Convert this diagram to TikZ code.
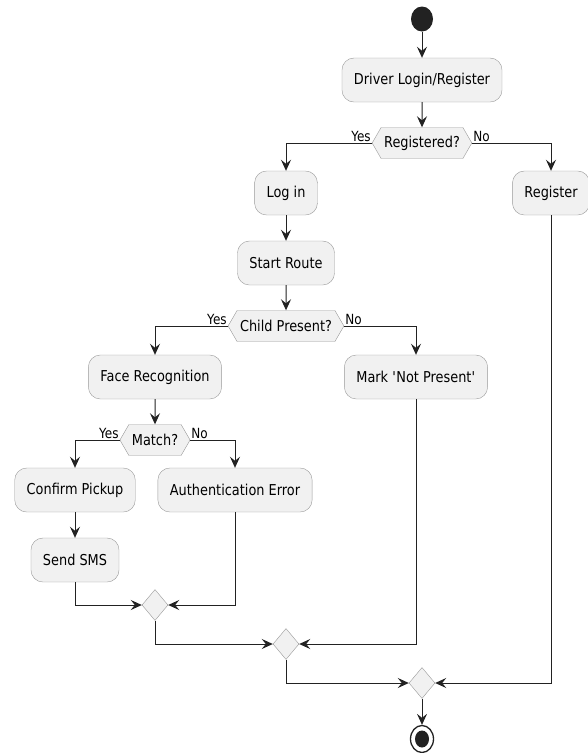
\documentclass[tikz,border=0pt]{standalone}
\usepackage{fontspec}
\setmainfont[FakeStretch=0.86]{DejaVu Sans}
\usetikzlibrary{shapes.geometric, shapes.symbols, arrows.meta}
\definecolor{boxfill}{HTML}{F1F1F1}
\definecolor{boxline}{HTML}{999999}
\definecolor{flowline}{HTML}{222222}
\begin{document}
\begin{tikzpicture}[x=1pt, y=-1pt,
  act/.style={draw=boxline, fill=boxfill, rounded corners=12pt, minimum height=44pt, inner xsep=12pt, font=\fontsize{15}{18}\selectfont},
  ask/.style={draw=boxline, fill=boxfill, signal, signal to=west and east, signal pointer angle=120, minimum height=31pt, inner xsep=3pt, inner ysep=2pt, font=\fontsize{15}{18}\selectfont},
  mergept/.style={draw=boxline, fill=boxfill, diamond, minimum width=26pt, minimum height=31pt, inner sep=0pt},
  ans/.style={inner sep=1pt, font=\fontsize{14}{16}\selectfont},
  flow/.style={draw=flowline, line width=1pt, -{Stealth[length=11pt, width=10pt, inset=4pt]}}]
\useasboundingbox (0,0) rectangle (587,753);
\node[ellipse, fill=flowline, minimum width=22pt, minimum height=25pt, inner sep=0pt] (start) at (422,19) {};
\node[act] (driver) at (422,80) {Driver Login/Register};
\node[ask] (registered) at (422,143) {Registered?};
\node[act] (login) at (286,193) {Log in};
\node[act] (register) at (551,193) {Register};
\node[act] (route) at (286,263) {Start Route};
\node[ask] (child) at (286,326) {Child Present?};
\node[act] (face) at (155,377) {Face Recognition};
\node[act] (mark) at (416,377) {Mark \textquotesingle Not Present\textquotesingle};
\node[ask] (match) at (155,440) {Match?};
\node[act] (confirm) at (75,490) {Confirm Pickup};
\node[act] (autherr) at (235,490) {Authentication Error};
\node[act] (sms) at (75,560) {Send SMS};
\node[mergept] (merge1) at (155,605) {};
\node[mergept] (merge2) at (286,644) {};
\node[mergept] (merge3) at (422,683) {};
\node[ellipse, draw=flowline, line width=1.3pt, fill=white, minimum width=23pt, minimum height=27pt, inner sep=0pt] (stop) at (422,739) {};
\node[ellipse, fill=flowline, minimum width=14pt, minimum height=17pt, inner sep=0pt] (stopdot) at (stop) {};
\node[ans, anchor=south east] (regyes) at (registered.west) {Yes};
\node[ans, anchor=south west] (regno) at (registered.east) {No};
\node[ans, anchor=south east] (childyes) at (child.west) {Yes};
\node[ans, anchor=south west] (childno) at (child.east) {No};
\node[ans, anchor=south east] (matchyes) at (match.west) {Yes};
\node[ans, anchor=south west] (matchno) at (match.east) {No};
\draw[flow] (start) -- (driver);
\draw[flow] (driver) -- (registered);
\draw[flow] (registered.west) -| (login.north);
\draw[flow] (registered.east) -| (register.north);
\draw[flow] (login) -- (route);
\draw[flow] (route) -- (child);
\draw[flow] (child.west) -| (face.north);
\draw[flow] (child.east) -| (mark.north);
\draw[flow] (face) -- (match);
\draw[flow] (match.west) -| (confirm.north);
\draw[flow] (match.east) -| (autherr.north);
\draw[flow] (confirm) -- (sms);
\draw[flow] (sms.south) |- (merge1.west);
\draw[flow] (autherr.south) |- (merge1.east);
\draw[flow] (merge1.south) |- (merge2.west);
\draw[flow] (mark.south) |- (merge2.east);
\draw[flow] (merge2.south) |- (merge3.west);
\draw[flow] (register.south) |- (merge3.east);
\draw[flow] (merge3) -- (stop);
\end{tikzpicture}
\end{document}
